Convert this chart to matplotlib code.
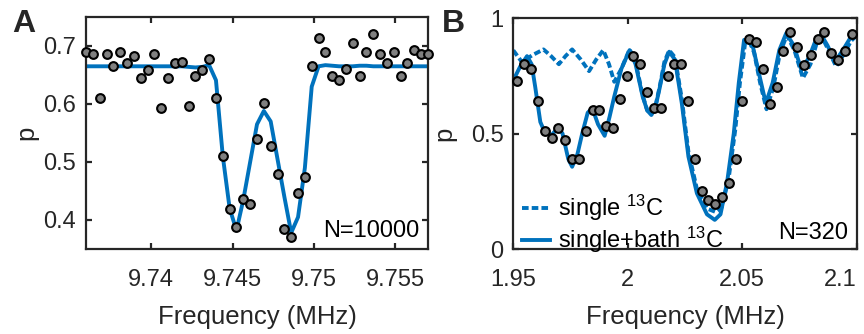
import matplotlib
matplotlib.use("Agg")
import matplotlib.pyplot as plt

plt.rcParams['font.family'] = ['Liberation Sans', 'DejaVu Sans']
plt.rcParams['mathtext.default'] = 'regular'

TXT = '#262626'
BLUE = '#0072BD'
GRAY = '#808080'

# ---------------- Panel A data ----------------
freq_a = [9.73600, 9.73642, 9.73684, 9.73726, 9.73768, 9.73810, 9.73852, 9.73894,
          9.73936, 9.73978, 9.74020, 9.74062, 9.74104, 9.74146, 9.74188, 9.74230,
          9.74272, 9.74314, 9.74356, 9.74398, 9.74440, 9.74482, 9.74524, 9.74566,
          9.74608, 9.74650, 9.74692, 9.74734, 9.74776, 9.74818, 9.74860, 9.74902,
          9.74944, 9.74986, 9.75028, 9.75070, 9.75112, 9.75154, 9.75196, 9.75238,
          9.75280, 9.75322, 9.75364, 9.75406, 9.75448, 9.75490, 9.75532, 9.75574,
          9.75616, 9.75658, 9.75700]
p_a = [0.689, 0.686, 0.610, 0.686, 0.665, 0.690, 0.670, 0.682, 0.645, 0.658,
       0.686, 0.593, 0.645, 0.670, 0.673, 0.597, 0.649, 0.658, 0.677, 0.610,
       0.511, 0.419, 0.388, 0.436, 0.428, 0.539, 0.602, 0.527, 0.479, 0.384,
       0.371, 0.447, 0.475, 0.665, 0.713, 0.690, 0.649, 0.641, 0.661, 0.705,
       0.649, 0.690, 0.721, 0.686, 0.670, 0.690, 0.649, 0.670, 0.693, 0.686,
       0.686]
fit_a = [0.665, 0.665, 0.665, 0.665, 0.665, 0.665, 0.665, 0.665, 0.665, 0.665,
         0.665, 0.665, 0.665, 0.665, 0.665, 0.664, 0.663, 0.664, 0.667, 0.641,
         0.510, 0.420, 0.382, 0.435, 0.500, 0.565, 0.588, 0.570, 0.505, 0.440,
         0.378, 0.405, 0.490, 0.630, 0.665, 0.667, 0.666, 0.665, 0.665, 0.665,
         0.666, 0.666, 0.665, 0.665, 0.665, 0.665, 0.665, 0.665, 0.665, 0.665,
         0.665]
xticks_a = [9.74, 9.745, 9.75, 9.755]
xticklabels_a = ['9.74', '9.745', '9.75', '9.755']
yticks_a = [0.4, 0.5, 0.6, 0.7]
yticklabels_a = ['0.4', '0.5', '0.6', '0.7']

# ---------------- Panel B data ----------------
freq_b = [1.9518, 1.9548, 1.9578, 1.9607, 1.9637, 1.9667, 1.9697, 1.9727, 1.9756, 1.9786,
          1.9816, 1.9846, 1.9876, 1.9905, 1.9935, 1.9965, 1.9995, 2.0025, 2.0054, 2.0084,
          2.0114, 2.0144, 2.0174, 2.0203, 2.0233, 2.0263, 2.0293, 2.0323, 2.0352, 2.0382,
          2.0412, 2.0442, 2.0472, 2.0501, 2.0531, 2.0561, 2.0591, 2.0621, 2.0650, 2.0680,
          2.0710, 2.0740, 2.0770, 2.0799, 2.0829, 2.0859, 2.0889, 2.0919, 2.0948, 2.0978]
p_b = [0.728, 0.801, 0.779, 0.642, 0.512, 0.482, 0.522, 0.472, 0.391, 0.391,
       0.512, 0.602, 0.602, 0.532, 0.524, 0.649, 0.749, 0.837, 0.800, 0.681,
       0.612, 0.612, 0.749, 0.800, 0.800, 0.642, 0.391, 0.252, 0.212, 0.195,
       0.224, 0.284, 0.391, 0.642, 0.908, 0.898, 0.779, 0.626, 0.700, 0.859,
       0.938, 0.873, 0.797, 0.840, 0.908, 0.938, 0.847, 0.818, 0.859, 0.929]

bath_f = [1.9500, 1.9530, 1.9560, 1.9580, 1.9596, 1.9618, 1.9640, 1.9668, 1.9695, 1.9715,
          1.9740, 1.9757, 1.9780, 1.9801, 1.9825, 1.9845, 1.9870, 1.9899, 1.9920, 1.9941,
          1.9972, 2.0008, 2.0034, 2.0065, 2.0085, 2.0103, 2.0120, 2.0140, 2.0160, 2.0181,
          2.0206, 2.0236, 2.0265, 2.0302, 2.0346, 2.0380, 2.0405, 2.0434, 2.0463, 2.0485,
          2.0508, 2.0530, 2.0548, 2.0573, 2.0603, 2.0633, 2.0662, 2.0692, 2.0726, 2.0758,
          2.0792, 2.0824, 2.0846, 2.0873, 2.0905, 2.0939, 2.0971, 2.1000]
bath_p = [0.730, 0.790, 0.835, 0.800, 0.700, 0.550, 0.500, 0.494, 0.525, 0.500,
          0.390, 0.356, 0.410, 0.500, 0.590, 0.610, 0.540, 0.490, 0.570, 0.660,
          0.780, 0.861, 0.800, 0.660, 0.600, 0.580, 0.610, 0.700, 0.800, 0.854,
          0.820, 0.631, 0.400, 0.241, 0.150, 0.126, 0.150, 0.290, 0.500, 0.720,
          0.905, 0.900, 0.870, 0.760, 0.631, 0.720, 0.861, 0.934, 0.880, 0.775,
          0.830, 0.912, 0.926, 0.880, 0.811, 0.860, 0.912, 0.934]

single_f = [1.9500, 1.9537, 1.9585, 1.9632, 1.9665, 1.9699, 1.9728, 1.9757, 1.9795, 1.9831,
            1.9862, 1.9893, 1.9918, 1.9941, 1.9972, 2.0008, 2.0034, 2.0065, 2.0085, 2.0103,
            2.0120, 2.0140, 2.0160, 2.0181, 2.0206, 2.0236, 2.0265, 2.0302, 2.0346, 2.0385,
            2.0410, 2.0440, 2.0470, 2.0490, 2.0513, 2.0535, 2.0552, 2.0578, 2.0606, 2.0636,
            2.0665, 2.0695, 2.0728, 2.0765, 2.0798, 2.0828, 2.0850, 2.0877, 2.0910, 2.0942,
            2.0975, 2.1000]
single_p = [0.860, 0.810, 0.840, 0.864, 0.835, 0.800, 0.835, 0.864, 0.820, 0.770,
            0.820, 0.861, 0.800, 0.724, 0.780, 0.865, 0.810, 0.665, 0.600, 0.585,
            0.615, 0.705, 0.810, 0.860, 0.830, 0.650, 0.420, 0.260, 0.175, 0.160,
            0.180, 0.300, 0.520, 0.720, 0.895, 0.890, 0.850, 0.720, 0.605, 0.700,
            0.850, 0.925, 0.860, 0.740, 0.800, 0.900, 0.915, 0.860, 0.790, 0.840,
            0.900, 0.925]
xticks_b = [1.95, 2.0, 2.05, 2.1]
xticklabels_b = ['1.95', '2', '2.05', '2.1']
yticks_b = [0, 0.5, 1]
yticklabels_b = ['0', '0.5', '1']

FS = 17
FSL = 18.5
LW = 2.8

fig = plt.figure(figsize=(8.64, 3.34), dpi=100)
axA = fig.add_axes([86/864, 1-249/334, 342/864, 232/334])
axB = fig.add_axes([513.3/864, 1-249/334, 343.4/864, 231/334])


def style(ax):
    for s in ax.spines.values():
        s.set_color(TXT)
        s.set_linewidth(1.6)
    ax.tick_params(direction='in', length=4, width=1.6, colors=TXT,
                   labelsize=FS, top=True, right=True)
    ax.tick_params(axis='y', pad=7)
    ax.tick_params(axis='x', pad=14.5)


# Panel A
axA.plot(freq_a, fit_a, color=BLUE, lw=LW, zorder=2)
axA.plot(freq_a, p_a, 'o', ms=6.3, mfc=GRAY, mec='black', mew=1.5, zorder=3, clip_on=False)
axA.set_xlim(9.736, 9.757)
axA.set_ylim(0.35, 0.75)
axA.set_xticks(xticks_a)
axA.set_xticklabels(xticklabels_a)
axA.set_yticks(yticks_a)
axA.set_yticklabels(yticklabels_a)
style(axA)
axA.set_xlabel('Frequency (MHz)', fontsize=FSL, color=TXT, labelpad=10)
axA.set_ylabel('p', fontsize=FSL, color=TXT)
axA.yaxis.set_label_coords(-0.14, 0.5)
axA.text(0.975, 0.03, 'N=10000', transform=axA.transAxes, ha='right', va='bottom',
         fontsize=FS, color='black')
fig.text(12/864, 1-32/334, 'A', fontsize=23, fontweight='bold', color=TXT, ha='left', va='baseline')

# Panel B
l1, = axB.plot(single_f, single_p, color=BLUE, lw=LW, ls='--', zorder=2)
l1.set_dashes((1.7, 0.8))
l2, = axB.plot(bath_f, bath_p, color=BLUE, lw=LW, zorder=2)
axB.plot(freq_b, p_b, 'o', ms=6.3, mfc=GRAY, mec='black', mew=1.5, zorder=3, clip_on=False)
axB.set_xlim(1.95, 2.1)
axB.set_ylim(0, 1)
axB.set_xticks(xticks_b)
axB.set_xticklabels(xticklabels_b)
axB.set_yticks(yticks_b)
axB.set_yticklabels(yticklabels_b)
style(axB)
axB.get_xticklabels()[-1].set_horizontalalignment('right')
axB.set_xlabel('Frequency (MHz)', fontsize=FSL, color=TXT, labelpad=10)
axB.set_ylabel('p', fontsize=FSL, color=TXT)
axB.yaxis.set_label_coords(-0.167, 0.5)
axB.text(0.975, 0.02, 'N=320', transform=axB.transAxes, ha='right', va='bottom',
         fontsize=FS, color='black')
leg = axB.legend([l1, l2], ['single $^{13}$C', 'single+bath $^{13}$C'],
                 loc='lower left', bbox_to_anchor=(0.0245, -0.028), frameon=False,
                 fontsize=FS, handlelength=1.2, handletextpad=0.35, labelspacing=0.08,
                 borderpad=0.0, borderaxespad=0.0)
for t in leg.get_texts():
    t.set_color('black')
fig.text(442/864, 1-32/334, 'B', fontsize=23, fontweight='bold', color=TXT, ha='left', va='baseline')

fig.savefig('out.png', dpi=100)
